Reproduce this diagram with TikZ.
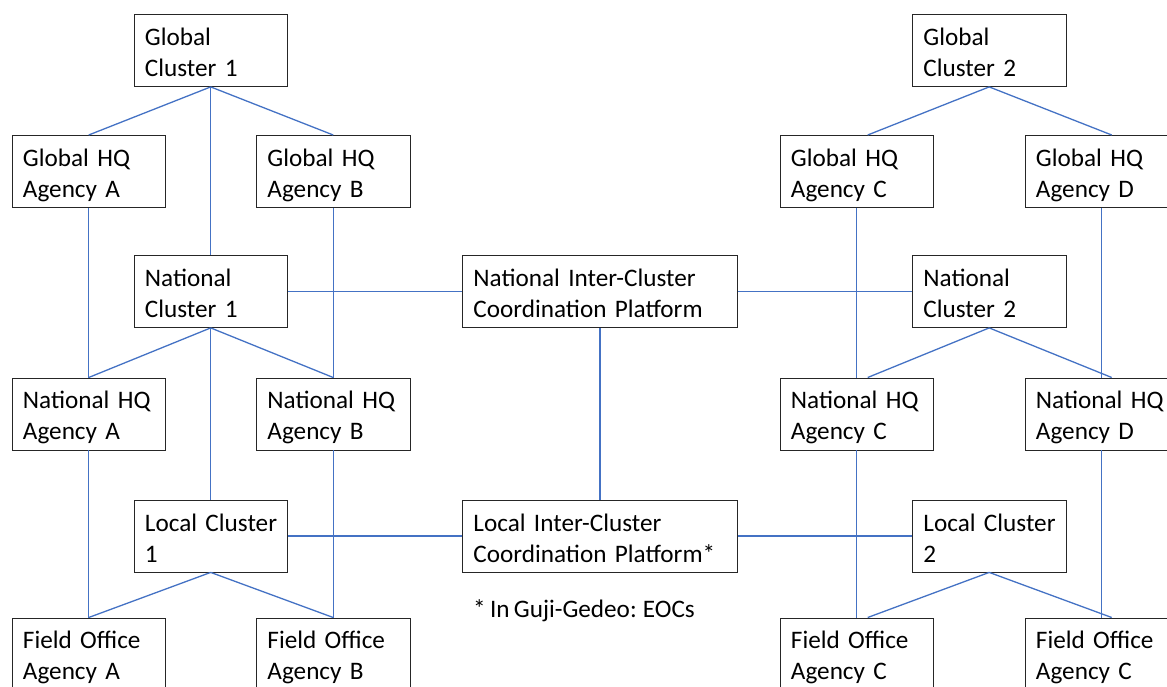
\documentclass[tikz,border=0pt]{standalone}
\usepackage{fontspec}
\setmainfont[WordSpace=0.75]{Carlito}
\usetikzlibrary{calc}
\definecolor{linkblue}{HTML}{4472C4}
\newcommand\boxstrut{\rule[-3pt]{0pt}{28pt}}
\tikzset{
  orgbox/.style={draw=black!85, line width=0.9pt, rectangle, anchor=north west,
    minimum width=153.5pt, minimum height=72pt, text width=131.5pt,
    inner xsep=11pt, inner ysep=0pt, align=left,
    font=\fontsize{25.2}{31}\selectfont,
    execute at begin node={\hyphenpenalty=10000\hbadness=10000\hfuzz=20pt\boxstrut},
    execute at end node=\boxstrut},
  widebox/.style={orgbox, minimum width=275pt, text width=253pt},
  link/.style={draw=linkblue, line width=1.3pt},
  notetext/.style={font=\fontsize{25.2}{31}\selectfont, anchor=base west, inner sep=0pt}
}
\begin{document}
\begin{tikzpicture}[x=1pt,y=-1pt]
\useasboundingbox (0,0) rectangle (1167,686);
\clip (0,0) rectangle (1167,686);
% left block
\node[orgbox] (gc1) at (133.5,14) {Global\\Cluster 1};
\node[orgbox] (gha) at (11.5,135) {Global HQ\\Agency A};
\node[orgbox] (ghb) at (256,135) {Global HQ\\Agency B};
\node[orgbox] (nc1) at (133.5,255) {National\\Cluster 1};
\node[orgbox] (nha) at (11.5,377.5) {National HQ\\Agency A};
\node[orgbox] (nhb) at (256,377.5) {National HQ\\Agency B};
\node[orgbox] (lc1) at (133.5,499.5) {Local~Cluster\\1};
\node[orgbox] (foa) at (11.5,617.5) {Field Office\\Agency A};
\node[orgbox] (fob) at (256,617.5) {Field Office\\Agency B};
% middle
\node[widebox] (nic) at (462,255) {National Inter-Cluster\\Coordination Platform};
\node[widebox] (lic) at (462,499.5) {Local Inter-Cluster\\Coordination Platform*};
\node[notetext] (note) at (473,617) {* In Guji-Gedeo: EOCs};
% right block
\node[orgbox] (gc2) at (912,14) {Global\\Cluster 2};
\node[orgbox] (ghc) at (779.5,135) {Global HQ\\Agency C};
\node[orgbox] (ghd) at (1024.5,135) {Global HQ\\Agency D};
\node[orgbox] (nc2) at (912,255) {National\\Cluster 2};
\node[orgbox] (nhc) at (779.5,377.5) {National HQ\\Agency C};
\node[orgbox] (nhd) at (1024.5,377.5) {National HQ\\Agency D};
\node[orgbox] (lc2) at (912,499.5) {Local~Cluster\\2};
\node[orgbox] (foc) at (779.5,617.5) {Field Office\\Agency C};
\node[orgbox] (fod) at (1024.5,617.5) {Field Office\\Agency C};
% left connectors
\draw[link] (gc1.south) -- (gha.north);
\draw[link] (gc1.south) -- (ghb.north);
\draw[link] (gc1.south) -- (nc1.north);
\draw[link] (gha.south) -- (nha.north);
\draw[link] (ghb.south) -- (nhb.north);
\draw[link] (nc1.south) -- (nha.north);
\draw[link] (nc1.south) -- (nhb.north);
\draw[link] (nc1.south) -- (lc1.north);
\draw[link] (nha.south) -- (foa.north);
\draw[link] (nhb.south) -- (fob.north);
\draw[link] (lc1.south) -- (foa.north);
\draw[link] (lc1.south) -- (fob.north);
% middle connectors
\draw[link] (nc1.east) -- (nic.west);
\draw[link] (lc1.east) -- (lic.west);
\draw[link] (nic.south) -- (lic.north);
\draw[link] (nic.east) -- (nc2.west);
\draw[link] (lic.east) -- (lc2.west);
% right connectors
\draw[link] (gc2.south) -- ($(ghc.north)+(11,0)$);
\draw[link] (gc2.south) -- ($(ghd.north)+(10,0)$);
\draw[link] (ghc.south) -- (nhc.north);
\draw[link] (ghd.south) -- (nhd.north);
\draw[link] (nc2.south) -- ($(nhc.north)+(11,0)$);
\draw[link] (nc2.south) -- ($(nhd.north)+(10,0)$);
\draw[link] (nhc.south) -- (foc.north);
\draw[link] (nhd.south) -- (fod.north);
\draw[link] (lc2.south) -- ($(foc.north)+(11,0)$);
\draw[link] (lc2.south) -- ($(fod.north)+(10,0)$);
\end{tikzpicture}
\end{document}
